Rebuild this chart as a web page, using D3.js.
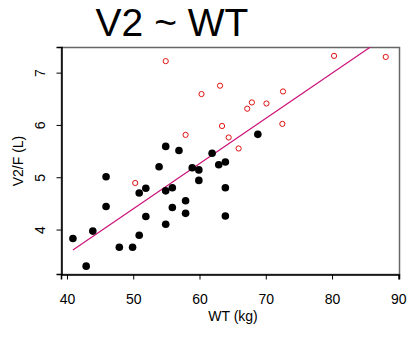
<!DOCTYPE html>
<html>
<head>
<meta charset="utf-8">
<script src="https://cdn.jsdelivr.net/npm/d3@7"></script>
<style>
  body { margin: 0; background: #fff; }
  svg { display: block; font-family: "Liberation Sans", Arial, sans-serif; }
</style>
</head>
<body>
<div id="chart"></div>
<script>
// observed group (filled black)
const wtFilled = [40.9, 42.9, 43.9, 45.9, 45.9, 47.9, 49.9, 50.9, 50.9, 51.9, 51.9, 53.9, 54.9, 54.9, 54.9,
  55.9, 55.9, 56.9, 57.9, 57.9, 58.9, 59.9, 59.9, 61.9, 62.9, 63.9, 63.9, 63.9, 68.8];
const v2Filled = [3.83, 3.30, 3.97, 5.01, 4.44, 3.66, 3.66, 4.70, 3.89, 4.79, 4.25, 5.20, 4.74, 4.10, 5.59,
  4.80, 4.42, 5.51, 4.55, 4.31, 5.18, 5.14, 4.94, 5.46, 5.24, 5.29, 4.80, 4.26, 5.82];

// second group (open red)
const wtOpen = [50.3, 54.9, 57.9, 60.3, 63.1, 63.4, 64.4, 65.9, 67.2, 67.9, 70.1, 72.6, 72.5, 80.3, 88.1];
const v2Open = [4.89, 7.22, 5.81, 6.59, 6.75, 5.98, 5.76, 5.55, 6.31, 6.43, 6.41, 6.64, 6.02, 7.32, 7.30];

// fitted line (end points of fitted values)
const fitWT = [40.9, 88.1];
const fitV2 = [3.61, 7.69];

const xTicks = [40, 50, 60, 70, 80, 90];
const yTicks = [4, 5, 6, 7];

const width = 408, height = 341;
const margin = { top: 47, right: 9, bottom: 67, left: 61 };

const svg = d3.select('#chart').append('svg')
  .attr('width', width)
  .attr('height', height);

const x = d3.scaleLinear()
  .domain([39.1, 90.1])
  .range([margin.left, width - margin.right]);

const y = d3.scaleLinear()
  .domain([3.15, 7.49])
  .range([height - margin.bottom, margin.top]);

// title
svg.append('text')
  .attr('x', 172)
  .attr('y', 36)
  .attr('text-anchor', 'middle')
  .attr('font-size', '39px')
  .attr('fill', '#000')
  .text('V2 ~ WT');

// clip for the fitted line
svg.append('clipPath').attr('id', 'plotclip')
  .append('rect')
  .attr('x', margin.left)
  .attr('y', margin.top)
  .attr('width', width - margin.left - margin.right)
  .attr('height', height - margin.top - margin.bottom);

// box
svg.append('rect')
  .attr('x', margin.left + 0.5)
  .attr('y', margin.top + 0.5)
  .attr('width', width - margin.left - margin.right)
  .attr('height', height - margin.top - margin.bottom)
  .attr('fill', 'none')
  .attr('stroke', '#666')
  .attr('stroke-width', 1.5);

// axes
const xAxis = svg.append('g')
  .attr('transform', `translate(0,${height - margin.bottom + 0.5})`)
  .call(d3.axisBottom(x).tickValues(xTicks).tickSize(5).tickPadding(15).tickFormat(d3.format('d')));

const yAxis = svg.append('g')
  .attr('transform', `translate(${margin.left + 0.5},0)`)
  .call(d3.axisLeft(y).tickValues(yTicks).tickSize(5).tickFormat(d3.format('d')));

[xAxis, yAxis].forEach(g => {
  g.select('.domain').attr('stroke', '#000').attr('stroke-width', 1.5);
  g.selectAll('.tick line').attr('stroke', '#000');
  g.selectAll('.tick text').attr('font-size', '14px').attr('fill', '#000')
    .attr('font-family', '"Liberation Sans", Arial, sans-serif');
});

// y tick labels are rotated like R's default
yAxis.selectAll('.tick text')
  .attr('text-anchor', 'middle')
  .attr('x', null)
  .attr('transform', 'translate(-21,0) rotate(-90)')
  .attr('dy', '0.35em');

// axis titles
svg.append('text')
  .attr('x', 233)
  .attr('y', 321)
  .attr('text-anchor', 'middle')
  .attr('font-size', '14px')
  .text('WT (kg)');

svg.append('text')
  .attr('transform', 'translate(23,161) rotate(-90)')
  .attr('text-anchor', 'middle')
  .attr('font-size', '14px')
  .text('V2/F (L)');

// fitted line
svg.append('line')
  .attr('clip-path', 'url(#plotclip)')
  .attr('x1', x(fitWT[0])).attr('y1', y(fitV2[0]))
  .attr('x2', x(fitWT[1])).attr('y2', y(fitV2[1]))
  .attr('stroke', '#CC1177')
  .attr('stroke-width', 1.2);

// filled points
svg.append('g').selectAll('circle')
  .data(d3.zip(wtFilled, v2Filled))
  .enter()
  .append('circle')
  .attr('cx', d => x(d[0]))
  .attr('cy', d => y(d[1]))
  .attr('r', 3.8)
  .attr('fill', '#000');

// open points
svg.append('g').selectAll('circle')
  .data(d3.zip(wtOpen, v2Open))
  .enter()
  .append('circle')
  .attr('cx', d => x(d[0]))
  .attr('cy', d => y(d[1]))
  .attr('r', 2.6)
  .attr('fill', 'none')
  .attr('stroke', '#DD1111')
  .attr('stroke-width', 1);
</script>
</body>
</html>
